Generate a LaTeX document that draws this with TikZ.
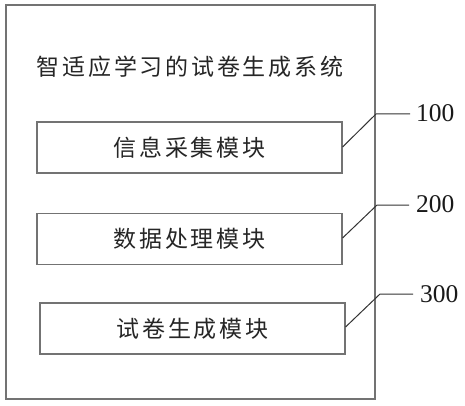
\documentclass[tikz,border=0pt]{standalone}
\usepackage{fontspec}
\setmainfont{Liberation Serif}
\newfontfamily\cjk[LetterSpace=12]{Noto Sans CJK SC}
\begin{document}
\begin{tikzpicture}[x=1pt,y=-1pt,
  frame/.style={draw=black!55,line width=1.1pt},
  modbox/.style={draw=black!55,line width=1.1pt,minimum width=305pt,minimum height=51pt,inner sep=0pt},
  cjktext/.style={font=\cjk\fontsize{23}{26}\selectfont,text=black!85,inner sep=0pt},
  leader/.style={draw=black!80,line width=1pt},
  numlabel/.style={font=\fontsize{25.5}{28}\selectfont,text=black!90,inner sep=0pt,anchor=west}]
\useasboundingbox (0,0) rectangle (465,406);
\fill[white] (0,0) rectangle (465,406);
\draw[frame] (6,5) rectangle (375,399);
\node[cjktext] (title) at (190,67) {智适应学习的试卷生成系统};
\node[modbox] (m1) at (189.5,147.5) {};
\node[modbox] (m2) at (189.5,239) {};
\node[modbox] (m3) at (192.5,328.5) {};
\node[cjktext] (t1) at (m1.center) {信息采集模块};
\node[cjktext] (t2) at (m2.center) {数据处理模块};
\node[cjktext] (t3) at (m3.center) {试卷生成模块};
\coordinate (b1) at (376,114);
\coordinate (e1) at (410,114);
\coordinate (b2) at (377,205);
\coordinate (e2) at (409,205);
\coordinate (b3) at (380,294);
\coordinate (e3) at (413,294);
\node[numlabel] (n1) at (416,113) {100};
\node[numlabel] (n2) at (416,204) {200};
\node[numlabel] (n3) at (420,294) {300};
\draw[leader] (m1.east |- 0,147) -- (b1) -- (e1);
\draw[leader] (m2.east |- 0,238) -- (b2) -- (e2);
\draw[leader] (m3.east |- 0,327) -- (b3) -- (e3);
\end{tikzpicture}
\end{document}
